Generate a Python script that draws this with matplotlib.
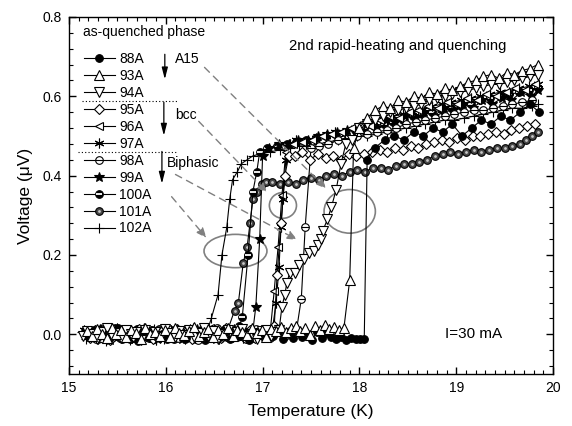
import matplotlib.pyplot as plt
from matplotlib.patches import Ellipse
from matplotlib.ticker import MultipleLocator, AutoMinorLocator, FormatStrFormatter

plt.rcParams['font.family'] = ['Liberation Sans', 'DejaVu Sans']

# Voltage vs temperature after the 2nd rapid heating / quench, one sweep per current
t_88 = [15.16, 15.21, 15.26, 15.31, 15.36, 15.41, 15.46, 15.51, 15.56, 15.61,
        15.66, 15.71, 15.76, 15.81, 15.86, 15.91, 15.96, 16.01, 16.06, 16.11,
        16.16, 16.21, 16.26, 16.31, 16.36, 16.41, 16.46, 16.51, 16.56, 16.61,
        16.66, 16.71, 16.76, 16.81, 16.86, 16.91, 16.96, 17.01, 17.06, 17.11,
        17.16, 17.21, 17.26, 17.31, 17.36, 17.41, 17.46, 17.51, 17.56, 17.61,
        17.66, 17.71, 17.76, 17.81, 17.86, 17.91, 17.96, 18.01, 18.05, 18.08,
        18.16, 18.26, 18.36, 18.46, 18.56, 18.66, 18.76, 18.86, 18.96, 19.06,
        19.16, 19.26, 19.36, 19.46, 19.56, 19.66, 19.76, 19.86]
v_88 = [0.004, -0.006, 0.011, -0.002, 0.008, -0.013, 0.003, 0.015, -0.010, 0.001,
        0.007, -0.016, 0.009, -0.004, 0.012, -0.007, 0.002, -0.012, 0.005, 0.014,
        0.000, -0.009, 0.006, -0.003, 0.010, -0.014, 0.004, 0.008, -0.006, 0.013,
        -0.011, 0.002, -0.005, 0.009, -0.015, 0.006, 0.001, -0.008, 0.011, -0.003,
        0.007, -0.012, 0.004, -0.009, 0.010, -0.006, 0.002, -0.014, 0.005, -0.010,
        0.003, -0.008, -0.012, -0.006, -0.014, -0.009, -0.012, -0.011, -0.013, 0.44,
        0.47, 0.49, 0.50, 0.49, 0.51, 0.50, 0.52, 0.51, 0.53, 0.50,
        0.52, 0.54, 0.53, 0.55, 0.54, 0.56, 0.58, 0.56]

t_93 = [15.19, 15.24, 15.29, 15.34, 15.39, 15.44, 15.49, 15.54, 15.59, 15.64,
        15.69, 15.74, 15.79, 15.84, 15.89, 15.94, 15.99, 16.04, 16.09, 16.14,
        16.19, 16.24, 16.29, 16.34, 16.39, 16.44, 16.49, 16.54, 16.59, 16.64,
        16.69, 16.74, 16.79, 16.84, 16.89, 16.94, 16.99, 17.04, 17.09, 17.14,
        17.19, 17.24, 17.29, 17.34, 17.39, 17.44, 17.49, 17.54, 17.59, 17.64,
        17.69, 17.74, 17.79, 17.84, 17.90, 17.94, 18.00, 18.08, 18.16, 18.24,
        18.32, 18.40, 18.48, 18.56, 18.64, 18.72, 18.80, 18.88, 18.96, 19.04,
        19.12, 19.20, 19.28, 19.36, 19.44, 19.52, 19.60, 19.68, 19.76, 19.84]
v_93 = [0.008, -0.004, 0.014, 0.002, -0.009, 0.017, 0.000, 0.010, -0.006, 0.012,
        0.003, -0.011, 0.015, 0.001, 0.007, -0.003, 0.011, -0.007, 0.016, 0.004,
        -0.002, 0.009, 0.018, -0.005, 0.006, 0.013, -0.008, 0.010, 0.002, 0.015,
        -0.004, 0.012, 0.007, -0.001, 0.016, 0.003, 0.011, -0.006, 0.014, 0.008,
        0.019, 0.005, 0.015, 0.022, 0.009, 0.017, -0.002, 0.020, 0.012, 0.024,
        0.014, 0.018, 0.011, 0.016, 0.137, 0.47, 0.52, 0.545, 0.565, 0.575,
        0.57, 0.59, 0.585, 0.60, 0.595, 0.61, 0.605, 0.62, 0.615, 0.625,
        0.635, 0.64, 0.65, 0.655, 0.645, 0.66, 0.655, 0.665, 0.67, 0.68]

t_94 = [15.14, 15.19, 15.24, 15.29, 15.34, 15.39, 15.44, 15.49, 15.54, 15.59,
        15.64, 15.69, 15.74, 15.79, 15.84, 15.89, 15.94, 15.99, 16.04, 16.09,
        16.14, 16.19, 16.24, 16.29, 16.34, 16.39, 16.44, 16.49, 16.54, 16.59,
        16.64, 16.69, 16.74, 16.79, 16.84, 16.89, 16.94, 16.99, 17.04, 17.09,
        17.14, 17.17, 17.20, 17.23, 17.25, 17.28, 17.33, 17.38, 17.43, 17.48,
        17.53, 17.57, 17.60, 17.62, 17.67, 17.71, 17.76, 17.81, 17.86, 17.92,
        18.00, 18.08, 18.16, 18.24, 18.32, 18.40, 18.48, 18.56, 18.64, 18.72,
        18.80, 18.88, 18.96, 19.04, 19.12, 19.20, 19.28, 19.36, 19.44, 19.52,
        19.60, 19.68, 19.76, 19.84]
v_94 = [-0.005, 0.009, 0.002, -0.012, 0.006, 0.015, -0.003, 0.004, -0.009, 0.011,
        0.000, 0.007, -0.014, 0.010, -0.002, 0.005, -0.010, 0.013, 0.003, -0.006,
        0.008, -0.001, 0.012, -0.008, 0.004, 0.016, -0.004, 0.009, -0.011, 0.002,
        0.010, -0.007, 0.006, 0.014, -0.003, 0.001, -0.012, 0.008, 0.011, -0.005,
        0.006, 0.010, 0.07, 0.10, 0.13, 0.155, 0.155, 0.175, 0.19, 0.205,
        0.21, 0.225, 0.24, 0.26, 0.29, 0.32, 0.365, 0.43, 0.48, 0.49,
        0.52, 0.53, 0.54, 0.55, 0.56, 0.565, 0.57, 0.575, 0.58, 0.59,
        0.595, 0.60, 0.605, 0.61, 0.615, 0.62, 0.625, 0.63, 0.63, 0.635,
        0.64, 0.645, 0.65, 0.655]

t_95 = [15.17, 15.22, 15.27, 15.32, 15.37, 15.42, 15.47, 15.52, 15.57, 15.62,
        15.67, 15.72, 15.77, 15.82, 15.87, 15.92, 15.97, 16.02, 16.07, 16.12,
        16.17, 16.22, 16.27, 16.32, 16.37, 16.42, 16.47, 16.52, 16.57, 16.62,
        16.67, 16.72, 16.77, 16.82, 16.87, 16.92, 16.97, 17.02, 17.07, 17.12,
        17.15, 17.19, 17.23, 17.27, 17.33, 17.41, 17.49, 17.57, 17.65, 17.73,
        17.81, 17.89, 17.97, 18.05, 18.13, 18.21, 18.29, 18.37, 18.45, 18.53,
        18.61, 18.69, 18.77, 18.85, 18.93, 19.01, 19.09, 19.17, 19.25, 19.33,
        19.41, 19.49, 19.57, 19.65, 19.73, 19.81]
v_95 = [0.003, -0.009, 0.012, -0.001, 0.007, -0.014, 0.011, -0.005, 0.002, 0.009,
        -0.008, 0.014, -0.003, 0.006, -0.011, 0.001, 0.010, -0.006, 0.004, 0.013,
        -0.004, 0.008, -0.012, 0.005, 0.000, 0.011, -0.007, 0.003, -0.010, 0.015,
        0.002, -0.005, 0.009, -0.002, 0.012, -0.009, 0.006, 0.001, -0.007, 0.02,
        0.15, 0.28, 0.40, 0.45, 0.45, 0.46, 0.44, 0.455, 0.445, 0.45,
        0.44, 0.455, 0.45, 0.455, 0.46, 0.465, 0.46, 0.47, 0.465, 0.475,
        0.47, 0.48, 0.485, 0.49, 0.485, 0.495, 0.49, 0.50, 0.50, 0.505,
        0.51, 0.505, 0.515, 0.52, 0.525, 0.53]

t_96 = [15.21, 15.26, 15.31, 15.36, 15.41, 15.46, 15.51, 15.56, 15.61, 15.66,
        15.71, 15.76, 15.81, 15.86, 15.91, 15.96, 16.01, 16.06, 16.11, 16.16,
        16.21, 16.26, 16.31, 16.36, 16.41, 16.46, 16.51, 16.56, 16.61, 16.66,
        16.71, 16.76, 16.81, 16.86, 16.91, 16.96, 17.01, 17.08, 17.12, 17.16,
        17.20, 17.24, 17.31, 17.41, 17.51, 17.61, 17.71, 17.81, 17.91, 18.01,
        18.11, 18.21, 18.31, 18.41, 18.51, 18.61, 18.71, 18.81, 18.91, 19.01,
        19.11, 19.21, 19.31, 19.41, 19.51, 19.61, 19.71, 19.81]
v_96 = [-0.007, 0.005, -0.013, 0.010, -0.002, 0.014, -0.009, 0.004, 0.008, -0.004,
        0.012, -0.006, 0.002, -0.011, 0.007, 0.000, 0.013, -0.008, 0.005, -0.003,
        0.010, -0.012, 0.006, 0.001, -0.007, 0.015, -0.005, 0.009, -0.010, 0.003,
        0.011, -0.004, 0.007, -0.009, 0.004, -0.002, 0.008, 0.010, 0.11, 0.22,
        0.35, 0.46, 0.48, 0.485, 0.49, 0.50, 0.505, 0.51, 0.52, 0.53,
        0.525, 0.54, 0.55, 0.545, 0.56, 0.565, 0.575, 0.57, 0.585, 0.58,
        0.595, 0.59, 0.605, 0.60, 0.61, 0.62, 0.615, 0.63]

t_97 = [15.15, 15.20, 15.25, 15.30, 15.35, 15.40, 15.45, 15.50, 15.55, 15.60,
        15.65, 15.70, 15.75, 15.80, 15.85, 15.90, 15.95, 16.00, 16.05, 16.10,
        16.15, 16.20, 16.25, 16.30, 16.35, 16.40, 16.45, 16.50, 16.55, 16.60,
        16.65, 16.70, 16.75, 16.80, 16.85, 16.90, 16.95, 17.00, 17.05, 17.10,
        17.14, 17.17, 17.19, 17.21, 17.24, 17.28, 17.35, 17.45, 17.55, 17.65,
        17.75, 17.85, 17.95, 18.05, 18.15, 18.25, 18.35, 18.45, 18.55, 18.65,
        18.75, 18.85, 18.95, 19.05, 19.15, 19.25, 19.35, 19.45, 19.55, 19.65,
        19.75, 19.85]
v_97 = [0.010, -0.003, 0.006, -0.013, 0.002, 0.012, -0.006, 0.015, -0.001, 0.004,
        -0.010, 0.011, 0.000, -0.005, 0.008, -0.014, 0.005, 0.001, -0.008, 0.009,
        0.003, -0.011, 0.013, -0.002, 0.006, -0.007, 0.010, 0.002, -0.012, 0.007,
        -0.004, 0.014, 0.001, -0.009, 0.005, 0.011, -0.006, 0.003, 0.008, 0.01,
        0.08, 0.17, 0.27, 0.34, 0.44, 0.48, 0.49, 0.48, 0.495, 0.50,
        0.51, 0.505, 0.52, 0.53, 0.535, 0.54, 0.55, 0.555, 0.56, 0.565,
        0.575, 0.58, 0.585, 0.59, 0.595, 0.60, 0.605, 0.61, 0.61, 0.62,
        0.625, 0.63]

t_98 = [15.18, 15.23, 15.28, 15.33, 15.38, 15.43, 15.48, 15.53, 15.58, 15.63,
        15.68, 15.73, 15.78, 15.83, 15.88, 15.93, 15.98, 16.03, 16.08, 16.13,
        16.18, 16.23, 16.28, 16.33, 16.38, 16.43, 16.48, 16.53, 16.58, 16.63,
        16.68, 16.73, 16.78, 16.83, 16.88, 16.93, 16.98, 17.03, 17.08, 17.13,
        17.18, 17.23, 17.28, 17.35, 17.40, 17.44, 17.50, 17.58, 17.68, 17.78,
        17.88, 17.98, 18.08, 18.18, 18.28, 18.38, 18.48, 18.58, 18.68, 18.78,
        18.88, 18.98, 19.08, 19.18, 19.28, 19.38, 19.48, 19.58, 19.68, 19.78]
v_98 = [-0.002, 0.008, -0.012, 0.005, 0.014, -0.004, 0.001, -0.009, 0.011, 0.003,
        -0.006, 0.013, -0.003, 0.007, -0.013, 0.004, 0.012, -0.005, 0.002, -0.010,
        0.009, -0.001, 0.006, -0.014, 0.010, 0.000, -0.007, 0.015, 0.003, -0.008,
        0.011, -0.004, 0.007, -0.011, 0.005, 0.013, -0.002, 0.008, -0.009, 0.004,
        0.006, -0.004, 0.009, 0.01, 0.09, 0.27, 0.47, 0.475, 0.48, 0.49,
        0.495, 0.50, 0.505, 0.51, 0.515, 0.52, 0.53, 0.535, 0.54, 0.545,
        0.55, 0.555, 0.56, 0.565, 0.565, 0.57, 0.575, 0.58, 0.585, 0.59]

t_99 = [15.22, 15.27, 15.32, 15.37, 15.42, 15.47, 15.52, 15.57, 15.62, 15.67,
        15.72, 15.77, 15.82, 15.87, 15.92, 15.97, 16.02, 16.07, 16.12, 16.17,
        16.22, 16.27, 16.32, 16.37, 16.42, 16.47, 16.52, 16.57, 16.62, 16.67,
        16.72, 16.77, 16.82, 16.90, 16.93, 16.97, 17.00, 17.07, 17.17, 17.27,
        17.37, 17.47, 17.57, 17.67, 17.77, 17.87, 17.97, 18.07, 18.17, 18.27,
        18.37, 18.47, 18.57, 18.67, 18.77, 18.87, 18.97, 19.07, 19.17, 19.27,
        19.37, 19.47, 19.57, 19.67, 19.77, 19.85]
v_99 = [0.006, -0.008, 0.013, 0.003, -0.014, 0.011, -0.005, 0.000, 0.009, -0.012,
        0.004, 0.015, -0.002, 0.007, -0.009, 0.010, -0.006, 0.002, 0.012, -0.011,
        0.005, -0.003, 0.014, -0.007, 0.001, 0.008, -0.013, 0.006, -0.004, 0.011,
        0.002, -0.008, -0.001, 0.01, 0.07, 0.24, 0.45, 0.47, 0.48, 0.48,
        0.49, 0.49, 0.50, 0.505, 0.51, 0.515, 0.515, 0.53, 0.52, 0.54,
        0.535, 0.55, 0.545, 0.56, 0.55, 0.57, 0.565, 0.58, 0.57, 0.59,
        0.58, 0.595, 0.59, 0.61, 0.60, 0.615]

t_100 = [15.20, 15.25, 15.30, 15.35, 15.40, 15.45, 15.50, 15.55, 15.60, 15.65,
         15.70, 15.75, 15.80, 15.85, 15.90, 15.95, 16.00, 16.05, 16.10, 16.15,
         16.20, 16.25, 16.30, 16.35, 16.40, 16.45, 16.50, 16.55, 16.60, 16.65,
         16.70, 16.76, 16.79, 16.85, 16.90, 16.94, 16.97, 17.05, 17.15, 17.25,
         17.35, 17.45, 17.55, 17.65, 17.75, 17.85, 17.95, 18.05, 18.15, 18.25,
         18.35, 18.45, 18.55, 18.65, 18.75, 18.85, 18.95, 19.05, 19.15, 19.25,
         19.35, 19.45, 19.55, 19.65, 19.75, 19.85]
v_100 = [-0.004, 0.007, -0.011, 0.002, 0.012, -0.006, 0.005, -0.013, 0.009, -0.001,
         0.014, -0.008, 0.003, -0.010, 0.008, 0.000, -0.005, 0.011, -0.003, 0.006,
         -0.012, 0.010, 0.001, -0.007, 0.013, -0.002, 0.004, -0.009, 0.007, -0.004,
         0.006, 0.02, 0.043, 0.20, 0.36, 0.41, 0.46, 0.47, 0.475, 0.48,
         0.485, 0.49, 0.495, 0.50, 0.505, 0.51, 0.515, 0.52, 0.525, 0.53,
         0.535, 0.54, 0.55, 0.555, 0.56, 0.565, 0.57, 0.575, 0.58, 0.59,
         0.595, 0.60, 0.605, 0.61, 0.615, 0.62]

t_101 = [15.23, 15.28, 15.33, 15.38, 15.43, 15.48, 15.53, 15.58, 15.63, 15.68,
         15.73, 15.78, 15.83, 15.88, 15.93, 15.98, 16.03, 16.08, 16.13, 16.18,
         16.23, 16.28, 16.33, 16.38, 16.43, 16.48, 16.53, 16.58, 16.63, 16.71,
         16.75, 16.80, 16.84, 16.87, 16.90, 16.94, 16.99, 17.04, 17.10, 17.18,
         17.26, 17.34, 17.42, 17.50, 17.58, 17.66, 17.74, 17.82, 17.90, 17.98,
         18.06, 18.14, 18.22, 18.30, 18.38, 18.46, 18.54, 18.62, 18.70, 18.78,
         18.86, 18.94, 19.02, 19.10, 19.18, 19.26, 19.34, 19.42, 19.50, 19.58,
         19.66, 19.72, 19.78, 19.84]
v_101 = [0.002, -0.010, 0.013, -0.003, 0.006, 0.015, -0.007, 0.001, -0.013, 0.009,
         -0.002, 0.011, -0.009, 0.004, 0.014, -0.005, 0.008, -0.012, 0.003, 0.010,
         -0.006, 0.007, -0.011, 0.012, 0.000, -0.004, 0.009, -0.008, 0.004, 0.06,
         0.08, 0.18, 0.22, 0.28, 0.34, 0.36, 0.38, 0.385, 0.385, 0.38,
         0.385, 0.38, 0.39, 0.395, 0.39, 0.40, 0.405, 0.40, 0.41, 0.415,
         0.41, 0.42, 0.42, 0.415, 0.425, 0.43, 0.43, 0.435, 0.44, 0.45,
         0.455, 0.46, 0.455, 0.46, 0.465, 0.46, 0.465, 0.47, 0.47, 0.475,
         0.48, 0.49, 0.50, 0.51]

t_102 = [15.13, 15.18, 15.23, 15.28, 15.33, 15.38, 15.43, 15.48, 15.53, 15.58,
         15.63, 15.68, 15.73, 15.78, 15.83, 15.88, 15.93, 15.98, 16.03, 16.08,
         16.13, 16.18, 16.23, 16.28, 16.33, 16.38, 16.43, 16.47, 16.54, 16.58,
         16.63, 16.66, 16.69, 16.74, 16.78, 16.84, 16.90, 16.98, 17.08, 17.18,
         17.28, 17.38, 17.48, 17.58, 17.68, 17.78, 17.88, 17.98, 18.08, 18.18,
         18.28, 18.38, 18.48, 18.58, 18.68, 18.78, 18.88, 18.98, 19.08, 19.18,
         19.28, 19.38, 19.48, 19.58, 19.68, 19.78, 19.85]
v_102 = [0.005, -0.011, 0.009, -0.004, 0.013, -0.016, 0.002, 0.011, -0.008, 0.004,
         -0.015, 0.007, -0.003, 0.010, -0.006, 0.014, 0.001, -0.012, 0.008, -0.002,
         0.012, -0.009, 0.003, 0.015, -0.005, 0.006, 0.010, 0.04, 0.10, 0.20,
         0.27, 0.34, 0.39, 0.41, 0.43, 0.44, 0.45, 0.455, 0.46, 0.465,
         0.47, 0.475, 0.475, 0.48, 0.485, 0.49, 0.495, 0.50, 0.50, 0.505,
         0.51, 0.515, 0.52, 0.525, 0.53, 0.535, 0.54, 0.54, 0.545, 0.55,
         0.555, 0.56, 0.565, 0.57, 0.57, 0.575, 0.58]

labels = ['88A', '93A', '94A', '95A', '96A', '97A', '98A', '99A', '100A', '101A', '102A']

fig = plt.figure(figsize=(5.72, 4.26), dpi=100)
ax = fig.add_axes([0.1206, 0.1221, 0.8462, 0.8380])

line = dict(color='black', linewidth=0.8, markeredgecolor='black', markeredgewidth=0.8)
dots = dict(linestyle='none')

# spheres for 101A: dark disc with a light centre
s101 = ax.plot(t_101, v_101, marker='o', ms=5.5, mfc='#4a4a4a', **line)[0]
s101b = ax.plot(t_101, v_101, marker='o', ms=2, mfc='#c8c8c8', mec='none', **dots)[0]
s102 = ax.plot(t_102, v_102, marker='+', ms=7, **line)[0]
s100 = ax.plot(t_100, v_100, marker='o', ms=5.5, mfc='black', **line)[0]
s100b = ax.plot(t_100, v_100, marker='_', ms=4, mec='white', mew=1.3, **dots)[0]
s99 = ax.plot(t_99, v_99, marker='*', ms=7, mfc='black', **line)[0]
s98 = ax.plot(t_98, v_98, marker='o', ms=5.5, mfc='white', **line)[0]
s98b = ax.plot(t_98, v_98, marker='_', ms=5.5, mec='black', mew=0.8, **dots)[0]
s97 = ax.plot(t_97, v_97, marker=(6, 2, 0), ms=7, **line)[0]
s96 = ax.plot(t_96, v_96, marker='<', ms=6, mfc='white', **line)[0]
s95 = ax.plot(t_95, v_95, marker='D', ms=5, mfc='white', **line)[0]
s88 = ax.plot(t_88, v_88, marker='o', ms=5.5, mfc='black', **line)[0]
s94 = ax.plot(t_94, v_94, marker='v', ms=6.5, mfc='white', **line)[0]
s93 = ax.plot(t_93, v_93, marker='^', ms=6.5, mfc='white', **line)[0]

handles = [s88, s93, s94, s95, s96, s97, (s98, s98b), s99, (s100, s100b),
           (s101, s101b), s102]
ax.legend(handles, labels, loc='upper left', bbox_to_anchor=(0.031, 0.903),
          frameon=False, fontsize=10, handlelength=2.2, handletextpad=0.35,
          labelspacing=0.215, borderpad=0, borderaxespad=0)

ax.text(15.144, 0.762, 'as-quenched phase', fontsize=10, ha='left', va='center')

# phase groups: dotted separators, arrows and labels
ax.plot([15.13, 16.12], [0.587, 0.587], color='black', lw=0.8, ls=(0, (1, 2)))
ax.plot([15.09, 16.11], [0.46, 0.46], color='black', lw=0.8, ls=(0, (1, 2)))
down = dict(arrowstyle='-|>,head_length=0.7,head_width=0.18', color='black',
            lw=0.9, shrinkA=0, shrinkB=0)
ax.annotate('', xy=(15.99, 0.643), xytext=(15.99, 0.706), arrowprops=down)
ax.annotate('', xy=(15.98, 0.501), xytext=(15.98, 0.585), arrowprops=down)
ax.annotate('', xy=(15.96, 0.38), xytext=(15.96, 0.461), arrowprops=down)
ax.text(16.093, 0.694, 'A15', fontsize=10, ha='left', va='center')
ax.text(16.093, 0.554, 'bcc', fontsize=10, ha='left', va='center')
ax.text(16.01, 0.433, 'Biphasic', fontsize=10, ha='left', va='center')

# dashed pointers to the circled transitions
grey = '#808080'
pointer = dict(arrowstyle='-|>,head_length=0.6,head_width=0.25', color=grey,
               lw=1.0, linestyle=(0, (5, 4)), shrinkA=0, shrinkB=0)
ax.annotate('', xy=(17.66, 0.367), xytext=(16.40, 0.673), arrowprops=pointer)
ax.annotate('', xy=(17.05, 0.357), xytext=(16.34, 0.537), arrowprops=pointer)
ax.annotate('', xy=(17.36, 0.238), xytext=(16.10, 0.403), arrowprops=pointer)
ax.annotate('', xy=(16.42, 0.243), xytext=(16.06, 0.347), arrowprops=pointer)

ax.add_patch(Ellipse((16.72, 0.21), 0.65, 0.084, ec=grey, fc='none', lw=1.2))
ax.add_patch(Ellipse((17.21, 0.325), 0.28, 0.065, ec=grey, fc='none', lw=1.2))
ax.add_patch(Ellipse((17.90, 0.31), 0.53, 0.11, ec=grey, fc='none', lw=1.2))

ax.text(17.27, 0.727, '2nd rapid-heating and quenching', fontsize=10.7,
        ha='left', va='center')
ax.text(18.88, 0.0, 'I=30 mA', fontsize=11, ha='left', va='center')

ax.set_xlim(15, 20)
ax.set_ylim(-0.1, 0.8)
ax.xaxis.set_major_locator(MultipleLocator(1))
ax.xaxis.set_minor_locator(AutoMinorLocator(10))
ax.yaxis.set_major_locator(MultipleLocator(0.2))
ax.yaxis.set_minor_locator(AutoMinorLocator(5))
ax.yaxis.set_major_formatter(FormatStrFormatter('%.1f'))
ax.tick_params(which='both', direction='in', top=True, right=True, labelsize=10)
ax.tick_params(which='major', length=5, width=1.0, pad=5)
ax.tick_params(which='minor', length=3, width=0.8)
for sp in ax.spines.values():
    sp.set_linewidth(1.0)

ax.set_xlabel('Temperature (K)', fontsize=12.5)
ax.set_ylabel('Voltage (μV)', fontsize=12.5)
ax.xaxis.label.set_va('center')
ax.yaxis.label.set_va('center')
ax.xaxis.set_label_coords(0.5, -0.106)
ax.yaxis.set_label_coords(-0.089, 0.5)

fig.savefig('out.png', dpi=100)
